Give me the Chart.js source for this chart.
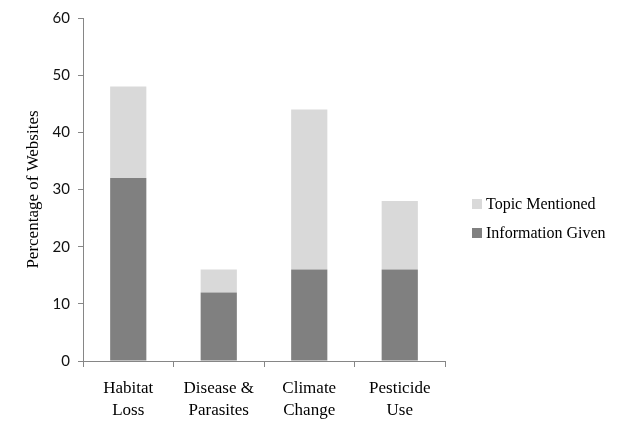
<!DOCTYPE html>
<html>
<head>
<meta charset="utf-8">
<script src="https://cdn.jsdelivr.net/npm/chart.js@4"></script>
<style>
	html, body { margin: 0; padding: 0; background: #fff; }
	#wrap { width: 640px; height: 441px; }
</style>
</head>
<body>
<div id="wrap"><canvas id="chart" width="640" height="441"></canvas></div>
<script>
'use strict';

// categories (two-line labels)
var categories = [['Habitat', 'Loss'], ['Disease &', 'Parasites'], ['Climate', 'Change'], ['Pesticide', 'Use']];

// series values, percentage of websites
var informationGiven = [32, 12, 16, 16];
var topicMentioned = [16, 4, 28, 12];   // stacked on top of information given

// y tick range
var yTicks = [0, 10, 20, 30, 40, 50, 60];

var axisColor = '#868686';

// legend drawn at the right, topmost series first
var sideLegend = {
	id : 'sideLegend',
	afterDraw : function(chart){
		var ctx = chart.ctx,
			items = chart.data.datasets.slice().reverse(),
			i = 0, y = 204;
		ctx.save();
		ctx.font = '16px "Liberation Serif", "Times New Roman", serif';
		ctx.textBaseline = 'middle';
		ctx.textAlign = 'left';
		for(i = 0; i < items.length; i++){
			ctx.fillStyle = items[i].backgroundColor;
			ctx.fillRect(472, y - 5, 10, 10);
			ctx.fillStyle = '#000';
			ctx.fillText(items[i].label, 486, y + 1);
			y += 29;
		}
		ctx.restore();
	}
};

var chart = new Chart(document.getElementById('chart').getContext('2d'), {
	type : 'bar',
	data : {
		labels : categories,
		datasets : [{
			label : 'Information Given',
			data : informationGiven,
			backgroundColor : '#808080'
		}, {
			label : 'Topic Mentioned',
			data : topicMentioned,
			backgroundColor : '#d9d9d9'
		}]
	},
	options : {
		responsive : false,
		animation : false,
		layout : { padding : { top : 18, right : 195, left : 0, bottom : 0 } },
		datasets : { bar : { barPercentage : 0.4, categoryPercentage : 1.0 } },
		plugins : {
			legend : { display : false },
			tooltip : { enabled : false }
		},
		scales : {
			x : {
				stacked : true,
				grid : { display : true, drawOnChartArea : false, offset : true, tickLength : 6, color : axisColor },
				border : { color : axisColor, width : 1 },
				ticks : {
					color : '#000',
					padding : 10,
					maxRotation : 0,
					font : { family : '"Liberation Serif", "Times New Roman", serif', size : 17, lineHeight : 1.3 }
				},
				afterFit : function(scale){ scale.height = 80; }
			},
			y : {
				stacked : true,
				min : yTicks[0],
				max : yTicks[yTicks.length - 1],
				grid : { display : true, drawOnChartArea : false, tickLength : 5, color : axisColor },
				border : { color : axisColor, width : 1 },
				ticks : {
					stepSize : yTicks[1] - yTicks[0],
					color : '#111',
					padding : 8,
					font : { family : 'Lato, "Open Sans", sans-serif', size : 15 }
				},
				title : {
					display : true,
					text : 'Percentage of Websites',
					color : '#000',
					padding : { top : 23, bottom : 0 },
					font : { family : '"Liberation Serif", "Times New Roman", serif', size : 17 }
				},
				afterFit : function(scale){ scale.width = 83; }
			}
		}
	},
	plugins : [sideLegend]
});
</script>
</body>
</html>
